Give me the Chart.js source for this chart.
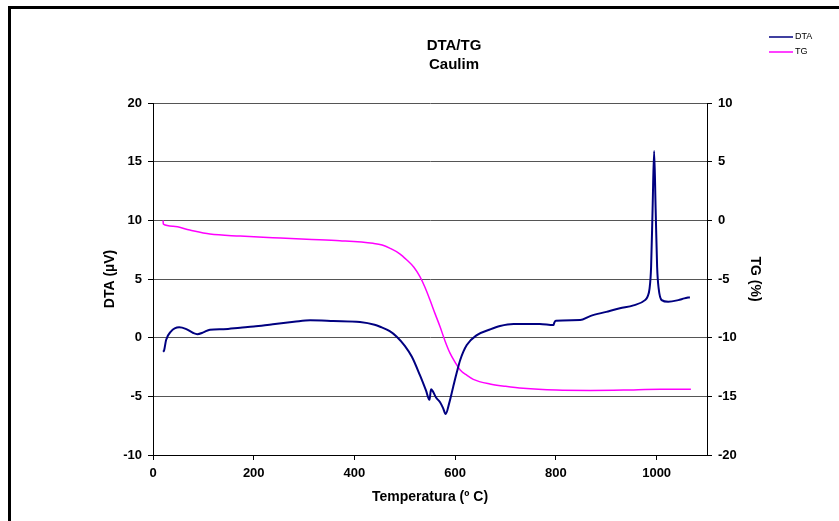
<!DOCTYPE html>
<html lang="pt">
<head>
<meta charset="UTF-8">
<title>DTA/TG Caulim</title>
<script src="https://cdn.jsdelivr.net/npm/chart.js"></script>
<style>
  body { margin: 0; background: #fff; overflow: hidden; }
  #frame { position: absolute; left: 8px; top: 6px; width: 900px; height: 600px; border: 3px solid #000; }
  #wrap { position: absolute; left: 0; top: 0; width: 839px; height: 521px; }
</style>
</head>
<body>
<div id="frame"></div>
<div id="wrap"><canvas id="dtaChart" width="839" height="521"></canvas></div>
<script>
// DTA curve (uV) vs temperature (C)
var dtaTemp = [20, 22, 26, 35, 52, 65, 80, 88, 100, 113, 140, 173, 200, 238, 280, 312, 358, 411, 440, 451,
               470, 484, 500, 514, 530, 542, 549, 552, 556, 562, 570, 576, 581, 588, 596, 603, 610, 623, 643,
               669, 689, 716, 768, 795, 797, 800, 848, 868, 900, 927, 954, 977, 982, 986, 989, 992, 995, 998,
               1001, 1004, 1010, 1023, 1043, 1055, 1066];
var dtaVal  = [-1.2, -1.1, -0.2, 0.5, 0.88, 0.75, 0.4, 0.3, 0.45, 0.68, 0.72, 0.85, 0.95, 1.15, 1.35, 1.48, 1.42, 1.33, 1.1, 0.93,
               0.55, 0.08, -0.7, -1.63, -3.2, -4.5, -5.3, -4.4, -4.6, -5.1, -5.5, -6.0, -6.5, -5.6, -4.2, -3.0, -1.9, -0.63, 0.22,
               0.7, 0.99, 1.16, 1.16, 1.07, 1.3, 1.44, 1.5, 1.84, 2.2, 2.5, 2.75, 3.2, 3.5, 4.2, 6.0, 11.0, 15.9, 11.0,
               6.0, 4.2, 3.2, 3.06, 3.2, 3.35, 3.45];

// TG curve (%) vs temperature (C)
var tgTemp = [20, 20.5, 40, 73, 113, 173, 238, 305, 371, 437, 455, 471, 490, 504, 518, 530, 540, 550, 560, 570,
              580, 590, 600, 610, 623, 636, 669, 700, 735, 801, 868, 934, 1007, 1068];
var tgVal  = [0.0, -0.33, -0.5, -0.83, -1.17, -1.34, -1.48, -1.62, -1.74, -1.96, -2.1, -2.39, -2.85, -3.38, -4.0, -4.8, -5.7, -6.79, -7.95, -9.07,
              -10.3, -11.34, -12.1, -12.76, -13.2, -13.55, -13.95, -14.15, -14.32, -14.47, -14.5, -14.47, -14.4, -14.4];

var titleLines = ['DTA/TG', 'Caulim'];
var xTitle = 'Temperatura (º C)';
var yTitle = 'DTA (µV)';
var y2Title = 'TG (%)';

var FONT = '"Liberation Sans", Arial, sans-serif';
Chart.defaults.font.family = FONT;
Chart.defaults.color = '#000';

function pairs(xs, ys) {
    return xs.map(function (x, i) { return { x: x, y: ys[i] }; });
}

// titles, axis names and legend are painted by hand
var decor = {
    id: 'decor',
    afterDraw: function (chart) {
        var ctx = chart.ctx;
        var a = chart.chartArea;
        var midY = (a.top + a.bottom) / 2;
        ctx.save();
        ctx.fillStyle = '#000';
        ctx.textAlign = 'center';
        ctx.textBaseline = 'middle';
        ctx.font = 'bold 15px ' + FONT;
        ctx.fillText(titleLines[0], 454, 46);
        ctx.fillText(titleLines[1], 454, 65);

        ctx.font = 'bold 14px ' + FONT;
        ctx.fillText(xTitle, (a.left + a.right) / 2, 497);

        ctx.save();
        ctx.translate(110, midY);
        ctx.rotate(-Math.PI / 2);
        ctx.fillText(yTitle, 0, 0);
        ctx.restore();

        ctx.save();
        ctx.translate(755, midY);
        ctx.rotate(Math.PI / 2);
        ctx.fillText(y2Title, 0, 0);
        ctx.restore();

        ctx.font = '9px ' + FONT;
        ctx.textAlign = 'left';
        chart.data.datasets.forEach(function (ds, i) {
            var y = 37 + i * 15;
            ctx.strokeStyle = ds.borderColor;
            ctx.lineWidth = 1.5;
            ctx.beginPath();
            ctx.moveTo(769, y);
            ctx.lineTo(793, y);
            ctx.stroke();
            ctx.fillText(ds.label, 795, y);
        });
        ctx.restore();
    }
};

var tickFont = { size: 13, weight: 'bold' };
function plain(v) { return String(v); }

var ctx = document.getElementById('dtaChart').getContext('2d');
var chart = new Chart(ctx, {
    type: 'line',
    data: {
        datasets: [{
            label: 'DTA',
            data: pairs(dtaTemp, dtaVal),
            borderColor: '#000080',
            borderWidth: 2,
            pointRadius: 0,
            cubicInterpolationMode: 'monotone',
            yAxisID: 'y'
        }, {
            label: 'TG',
            data: pairs(tgTemp, tgVal),
            borderColor: '#FF00FF',
            borderWidth: 1.5,
            pointRadius: 0,
            cubicInterpolationMode: 'monotone',
            yAxisID: 'y2'
        }]
    },
    options: {
        responsive: false,
        animation: false,
        devicePixelRatio: 1,
        layout: { padding: { top: 103, left: 0, right: 0, bottom: 0 } },
        plugins: { legend: { display: false }, title: { display: false }, tooltip: { enabled: false } },
        scales: {
            x: {
                type: 'linear',
                min: 0, max: 1100,
                afterBuildTicks: function (s) { s.ticks = s.ticks.filter(function (t) { return t.value % 200 === 0; }); },
                afterFit: function (s) { s.height = 66; },
                ticks: { stepSize: 200, font: tickFont, padding: 6, maxRotation: 0, callback: plain },
                grid: { drawOnChartArea: false, tickLength: 5, tickColor: '#000' },
                border: { color: '#000' }
            },
            y: {
                position: 'left',
                min: -10, max: 20,
                afterFit: function (s) { s.width = 153; },
                ticks: { stepSize: 5, font: tickFont, padding: 6, callback: plain },
                grid: { color: '#555', tickColor: '#000', tickLength: 5 },
                border: { color: '#000' }
            },
            y2: {
                position: 'right',
                min: -20, max: 10,
                afterFit: function (s) { s.width = 132; },
                ticks: { stepSize: 5, font: tickFont, padding: 6, callback: plain },
                grid: { drawOnChartArea: false, tickColor: '#000', tickLength: 5 },
                border: { color: '#000' }
            }
        }
    },
    plugins: [decor]
});
</script>
</body>
</html>
